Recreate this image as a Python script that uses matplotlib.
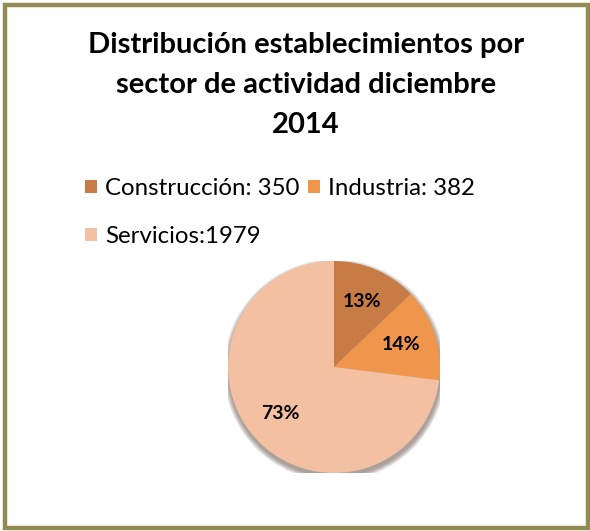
import matplotlib.pyplot as plt
from matplotlib.patches import Rectangle, Circle

# Datos
sectores = ['Construcción', 'Industria', 'Servicios']
valores = [350, 382, 1979]
etiquetas = ['Construcción: 350', 'Industria: 382', 'Servicios:1979']
colores = ['#C87C45', '#F0954C', '#F4C0A2']
titulo = ['Distribución establecimientos por', 'sector de actividad diciembre', '2014']

W, H = 590, 531
fig = plt.figure(figsize=(W / 100, H / 100), dpi=100)

# Marco exterior
fig.patches.append(Rectangle((5 / W, 3 / H), 583 / W, 523 / H, transform=fig.transFigure,
                             fill=False, edgecolor='#948A54', linewidth=3.2))

# Titulo, una linea cada 40 px
for i, linea in enumerate(titulo):
    fig.text(306 / W, 1 - (53 + 40 * i) / H, linea, ha='center', va='baseline',
             fontsize=21, fontweight='bold', family='Lato', color='black')

# Grafico circular: centro (334, 367) px, radio 106 px
cx, cy, r = 334, 367, 106
ax = fig.add_axes([(cx - r) / W, (H - cy - r) / H, 2 * r / W, 2 * r / H])

# sombra suave bajo el circulo
for i in range(8):
    ax.add_patch(Circle((0.005, -0.03), 1.0 + 0.006 * (8 - i), color='#4a3428',
                        alpha=0.07, lw=0, zorder=0))

wedges, textos, pcts = ax.pie(valores, colors=colores, startangle=90, counterclock=False,
                              autopct='%1.0f%%', pctdistance=0.67, radius=1.0,
                              textprops=dict(fontsize=14, fontweight='bold', family='Lato'))
for w in wedges:
    w.set_zorder(2)
for t in pcts:
    t.set_zorder(3)
ax.set_xlim(-1, 1)
ax.set_ylim(-1, 1)
ax.set_aspect('equal')
ax.axis('off')

# Leyenda (orden para que Servicios quede en la segunda fila)
orden = [0, 2, 1]
leg = fig.legend([wedges[i] for i in orden], [etiquetas[i] for i in orden],
                 loc='upper left', bbox_to_anchor=(73 / W, 1 - 166 / H), ncol=2,
                 frameon=False, prop=dict(family='Lato', size=17.3),
                 handlelength=0.5, handleheight=0.5, handletextpad=0.33,
                 columnspacing=0.38, labelspacing=1.12, borderpad=0)

fig.savefig('out.png', dpi=100, facecolor='white')
